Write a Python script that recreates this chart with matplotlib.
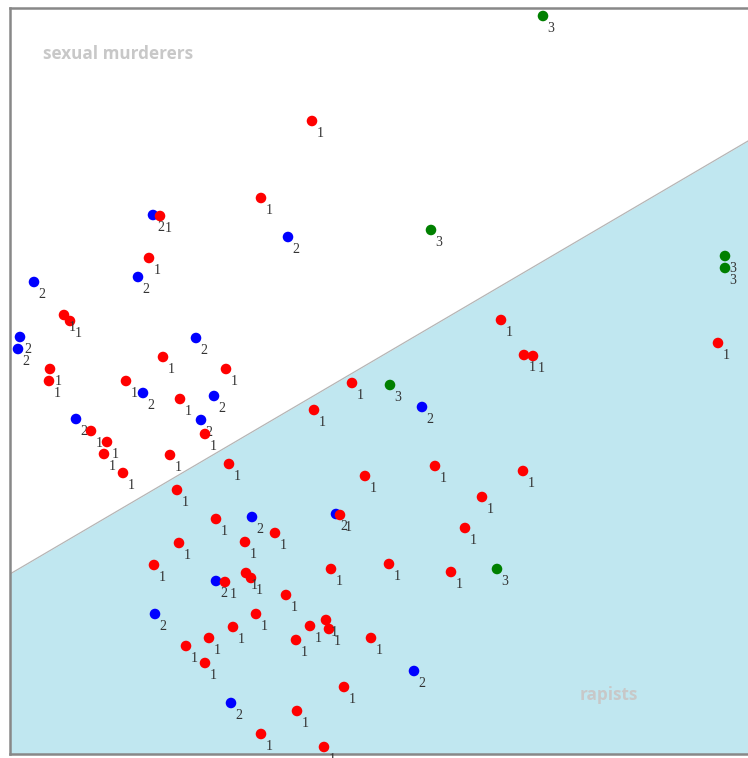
import numpy as np
import matplotlib.pyplot as plt

# group 1 (red), group 2 (blue), group 3 (green) -- screen-like coordinates, y grows downward
red_x = [160, 312, 261, 149, 64, 70, 163, 226, 50, 49, 126, 180, 91, 205, 107, 104,
         170, 229, 123, 177, 352, 314, 435, 365, 482, 501, 524, 533, 718, 523,
         216, 179, 245, 154, 246, 251, 225, 233, 209, 186, 205, 340, 275, 465,
         331, 389, 451, 286, 256, 310, 326, 329, 296, 371, 344, 297, 261, 324]
red_y = [216, 121, 198, 258, 315, 321, 357, 369, 369, 381, 381, 399, 431, 434, 442, 454,
         455, 464, 473, 490, 383, 410, 466, 476, 497, 320, 355, 356, 343, 471,
         519, 543, 542, 565, 573, 578, 582, 627, 638, 646, 663, 515, 533, 528,
         569, 564, 572, 595, 614, 626, 620, 629, 640, 638, 687, 711, 734, 747]

blue_x = [153, 288, 138, 34, 20, 18, 196, 143, 214, 76, 201, 422, 252, 336, 216, 155, 231, 414]
blue_y = [215, 237, 277, 282, 337, 349, 338, 393, 396, 419, 420, 407, 517, 514, 581, 614, 703, 671]

green_x = [543, 431, 390, 725, 725, 497]
green_y = [16, 230, 385, 256, 268, 569]

# separating line between the two regions
line_x = [10, 748]
line_y = [574, 141]

fig = plt.figure(figsize=(7.48, 7.58), dpi=100)
ax = fig.add_axes([10 / 748, 4 / 758, 738 / 748, 746 / 758])
ax.set_xlim(10, 748)
ax.set_ylim(754, 8)

ax.fill_between(line_x, line_y, [754, 754], color="#c0e7f0", lw=0, zorder=0)
ax.plot(line_x, line_y, color="#b5b5b5", lw=0.9, zorder=1)

groups = [
    (blue_x, blue_y, "#0000ff", "2"),
    (green_x, green_y, "#008000", "3"),
    (red_x, red_y, "#ff0000", "1"),
]
z = 2
for xs, ys, col, lbl in groups:
    ax.scatter(xs, ys, s=58, color=col, edgecolors="none", zorder=z)
    for x, y in zip(xs, ys):
        ax.annotate(lbl, (x, y), xytext=(5.8, -9.2), textcoords="offset points",
                    ha="center", va="center", fontsize=10, color="#333333",
                    family="Liberation Serif", zorder=z + 1)
    z += 2

ax.text(43, 54, "sexual murderers", fontsize=12.3, fontweight="bold",
        color="#c8c8c8", family="Open Sans", ha="left", va="center")
ax.text(580, 695, "rapists", fontsize=12.3, fontweight="bold",
        color="#c8c8c8", family="Open Sans", ha="left", va="center")

ax.set_xticks([])
ax.set_yticks([])
for side in ["left", "top", "bottom"]:
    ax.spines[side].set_color("#888888")
    ax.spines[side].set_linewidth(1.8)
ax.spines["right"].set_visible(False)

fig.savefig("out.png", dpi=100)
